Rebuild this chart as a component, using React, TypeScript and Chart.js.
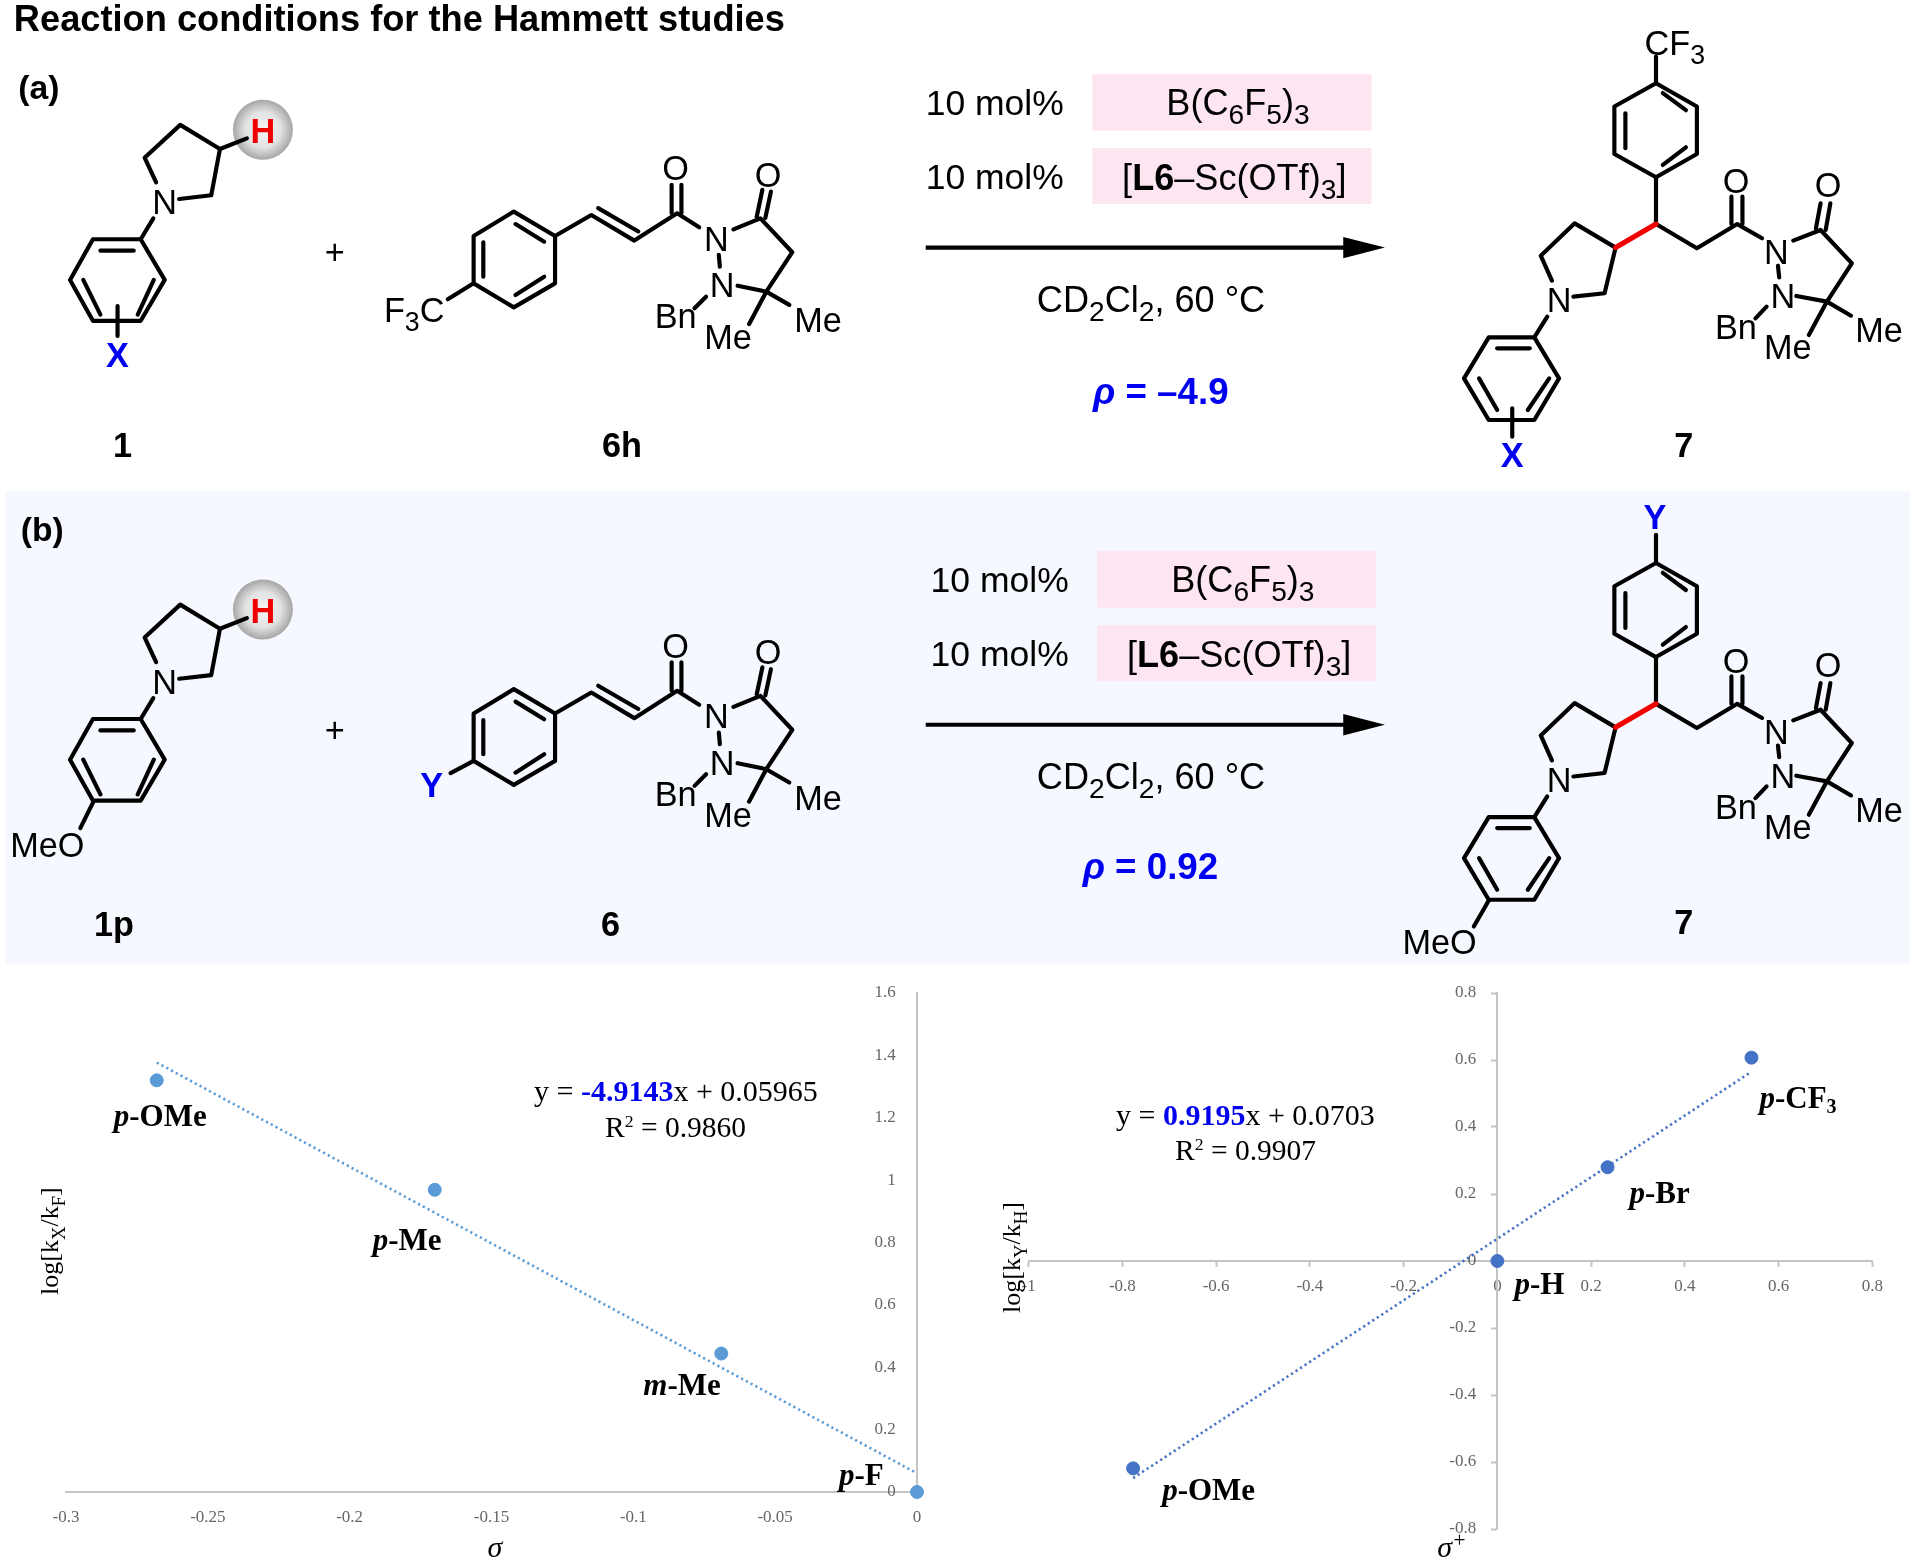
import React, { useEffect, useRef } from "react";
import { Chart, registerables } from "chart.js";

Chart.register(...registerables);

// ---------- chart data ----------
const leftSigma = [-0.268, -0.17, -0.069, 0];
const leftLog = [1.32, 0.969, 0.444, 0];
const leftLabels = ["p-OMe", "p-Me", "m-Me", "p-F"];
const leftTrendX = [-0.268, 0];
const leftTrendY = [1.377, 0.06];
const leftXTicks = [-0.3, -0.25, -0.2, -0.15, -0.1, -0.05, 0];
const leftYTicks = [0, 0.2, 0.4, 0.6, 0.8, 1, 1.2, 1.4, 1.6];

const rightSigma = [-0.777, 0, 0.235, 0.542];
const rightLog = [-0.619, 0, 0.28, 0.607];
const rightLabels = ["p-OMe", "p-H", "p-Br", "p-CF3"];
const rightTrendX = [-0.777, 0.542];
const rightTrendY = [-0.648, 0.565];
const rightXTicks = [-1, -0.8, -0.6, -0.4, -0.2, 0, 0.2, 0.4, 0.6, 0.8];
const rightYTicks = [-0.8, -0.6, -0.4, -0.2, 0, 0.2, 0.4, 0.6, 0.8];

const leftLabelOffsets = [[-43, 46], [-62, 60], [-78, 41], [-78, -7]];
const rightLabelOffsets = [[29, 32], [17, 33], [22, 36], [8, 50]];

const zip = (xs: number[], ys: number[]) => xs.map((x, i) => ({ x, y: ys[i] }));
const SERIF = "'Liberation Serif'";
const SANS = "'Liberation Sans', Arial, sans-serif";

function labelPlugin(labels: string[], offsets: number[][], size: number) {
  return {
    id: "pointLabels",
    afterDatasetsDraw(chart: any) {
      const ctx = chart.ctx;
      const pts = chart.getDatasetMeta(0).data;
      ctx.save();
      ctx.fillStyle = "#000";
      ctx.textBaseline = "alphabetic";
      ctx.textAlign = "left";
      labels.forEach((label, i) => {
        let x = pts[i].x + offsets[i][0];
        const y = pts[i].y + offsets[i][1];
        const m = label.match(/^(.)(.*?)(\d?)$/)!;
        ctx.font = `italic bold ${size}px ${SERIF}`;
        ctx.fillText(m[1], x, y);
        x += ctx.measureText(m[1]).width;
        ctx.font = `bold ${size}px ${SERIF}`;
        ctx.fillText(m[2], x, y);
        x += ctx.measureText(m[2]).width;
        if (m[3]) {
          ctx.font = `bold ${Math.round(size * 0.65)}px ${SERIF}`;
          ctx.fillText(m[3], x, y + 5);
        }
      });
      ctx.restore();
    },
  };
}

function makeChart(
  canvas: HTMLCanvasElement,
  cfg: {
    xs: number[]; ys: number[]; tx: number[]; ty: number[];
    xTicks: number[]; yTicks: number[]; xMin: number; xMax: number; yMin: number; yMax: number;
    color: string; padding: any; tickColor: string; labels: string[]; offsets: number[][];
  }
) {
  const tickFont = { family: SERIF, size: 17 };
  const fmt = (v: any) => String(+(+v).toFixed(2));
  return new Chart(canvas, {
    type: "scatter",
    data: {
      datasets: [
        {
          data: zip(cfg.xs, cfg.ys),
          backgroundColor: cfg.color,
          borderColor: cfg.color,
          pointRadius: 6.5,
          clip: false,
        } as any,
        {
          data: zip(cfg.tx, cfg.ty),
          showLine: true,
          borderColor: cfg.color,
          borderWidth: 2.6,
          borderDash: [2.2, 3.2],
          pointRadius: 0,
          clip: false,
        } as any,
      ],
    },
    options: {
      responsive: false,
      animation: false,
      layout: { padding: cfg.padding },
      plugins: { legend: { display: false }, tooltip: { enabled: false }, title: { display: false } },
      scales: {
        x: {
          type: "linear",
          position: { y: 0 } as any,
          min: cfg.xMin,
          max: cfg.xMax,
          afterBuildTicks: (s: any) => { s.ticks = cfg.xTicks.map((value) => ({ value })); },
          grid: { drawOnChartArea: false, tickLength: 5, tickColor: cfg.tickColor, tickWidth: 2 },
          border: { color: "#c4c4c4", width: 2 },
          ticks: { autoSkip: false, maxRotation: 0, color: "#666", font: tickFont, padding: 10, callback: fmt },
        },
        y: {
          type: "linear",
          position: { x: 0 } as any,
          min: cfg.yMin,
          max: cfg.yMax,
          afterBuildTicks: (s: any) => { s.ticks = cfg.yTicks.map((value) => ({ value })); },
          grid: { drawOnChartArea: false, tickLength: 5, tickColor: cfg.tickColor, tickWidth: 2 },
          border: { color: "#c4c4c4", width: 2 },
          ticks: { autoSkip: false, color: "#666", font: tickFont, callback: (v: any) => fmt(v) + "     " },
        },
      },
    } as any,
    plugins: [labelPlugin(cfg.labels, cfg.offsets, 31)],
  });
}

// ---------- structure drawing (scheme, not chart marks) ----------
type Run = string | [string, "sub" | "sup" | "b" | "i" | "bi" | "blue"];

function Rich({ x, y, size, runs, anchor = "start", fill = "#000", weight = "normal", family = SANS, style = "normal", subScale = 0.72 }: any) {
  let shift = 0;
  const spans = (runs as Run[]).map((r, i) => {
    const text = typeof r === "string" ? r : r[0];
    const kind = typeof r === "string" ? "" : r[1];
    const target = kind === "sub" ? size * 0.25 : kind === "sup" ? -size * 0.35 : 0;
    const dy = target - shift;
    shift = target;
    return (
      <tspan
        key={i}
        dy={dy}
        fontSize={kind === "sub" || kind === "sup" ? size * subScale : size}
        fontWeight={kind === "b" || kind === "bi" || kind === "blue" ? "bold" : weight}
        fontStyle={kind === "i" || kind === "bi" ? "italic" : style}
        fill={kind === "blue" ? "#0000f0" : fill}
      >
        {text}
      </tspan>
    );
  });
  return (
    <text x={x} y={y} fontSize={size} textAnchor={anchor} fontFamily={family} xmlSpace="preserve">
      {spans}
    </text>
  );
}

const Atom = ({ x, y, t, size = 28, fill = "#000", weight = "normal" }: any) => (
  <text x={x} y={y + size * 0.36} fontSize={size} textAnchor="middle" fontFamily={SANS} fill={fill} fontWeight={weight}>
    {t}
  </text>
);

const Bonds = ({ list, color = "#000", width = 3.4 }: { list: number[][]; color?: string; width?: number }) => (
  <g fill="none" stroke={color} strokeWidth={width} strokeLinejoin="round" strokeLinecap="round">
    {list.map((p, i) => (
      <polyline key={i} points={p.join(",")} />
    ))}
  </g>
);

const donorBonds = [
  [127.5, 149, 118.1, 128.8, 147.2, 102, 179.6, 121.7, 172.5, 159.5, 146.3, 162.5],
  [179.6, 121.7, 201.6, 113],
  [125.2, 178.3, 114.9, 195.4],
  [114.9, 195.4, 75.9, 195.4, 57.2, 228.6, 75.9, 262, 114.9, 262, 134.5, 228.6, 114.9, 195.4],
  [82, 204.7, 109.2, 204.7],
  [68, 228.6, 82, 257],
  [125.6, 228.6, 112.5, 257],
];

const acceptorBonds = [
  [386.8, 231.4, 386.8, 192.7, 419.6, 172.8, 453.3, 192.7, 453.3, 231.4, 419.6, 251, 386.8, 231.4],
  [394.7, 198, 394.7, 226],
  [421, 183, 444.4, 197.4],
  [444.4, 226, 421, 241],
  [453.3, 192.7, 482.9, 175.6, 518, 196.5, 553, 174.2, 571, 185.6],
  [488.5, 170, 521.3, 189],
  [548.5, 174, 548.5, 151],
  [556.5, 174, 556.5, 151],
  [587, 208.2, 587.9, 217.8],
  [599, 187.3, 621, 178.3, 647, 206, 625.8, 238.2, 602.4, 233.3],
  [618, 177, 622.6, 155],
  [625, 178, 629.6, 156.5],
  [625.8, 238.2, 644.6, 249],
  [625.8, 238.2, 611.8, 264.6],
  [576.6, 242.3, 567.2, 251.8],
];

const productBonds = [
  [1352.4, 68, 1385.8, 87, 1385.8, 125.8, 1352.4, 144.8, 1318.4, 125.8, 1318.4, 87, 1352.4, 68],
  [1358, 76, 1376.8, 90],
  [1376.8, 120.3, 1358, 134.7],
  [1327.4, 92.5, 1327.4, 121],
  [1352.4, 144.8, 1352.4, 183, 1385.8, 202.8, 1418.8, 183, 1439, 194.6],
  [1414, 183, 1414, 160.6],
  [1423, 183, 1423, 160.6],
  [1452, 217, 1453, 226.5],
  [1464.5, 196.5, 1486.8, 187.8, 1512.3, 215, 1492, 246.3, 1467, 241.7],
  [1483, 186.5, 1486.8, 166],
  [1491, 187.8, 1494.8, 166],
  [1492, 246.3, 1511.7, 257.8],
  [1492, 246.3, 1477.2, 273.6],
  [1442.7, 250.4, 1433.6, 260],
  [1267.4, 229.2, 1258.3, 208.8, 1286, 182.4, 1319.4, 202.2, 1310.4, 239.5, 1285, 242.3],
  [1263.6, 258.6, 1253, 275.5],
  [1253, 275.5, 1215.8, 275.5, 1195.6, 309, 1215.8, 343, 1253, 343, 1273.2, 309, 1253, 275.5],
  [1222.7, 284.5, 1249.3, 284.5],
  [1207.9, 309, 1222.7, 334.8],
  [1265.2, 309, 1247.7, 334.8],
];
const redBond = [[1352.4, 183, 1319.4, 202.2]];

const Donor = ({ dy, children }: any) => (
  <g transform={`translate(0 ${dy})`}>
    <circle cx={214.7} cy={106} r={24.5} fill="url(#sphere)" />
    <Bonds list={donorBonds} />
    <Atom x={134.5} y={164.7} t="N" />
    <Atom x={214.7} y={106.5} t="H" size={28} fill="#f00000" weight="bold" />
    {children}
  </g>
);

const Acceptor = ({ dy, children }: any) => (
  <g transform={`translate(0 ${dy})`}>
    <Bonds list={acceptorBonds} />
    <Atom x={551.8} y={137} t="O" />
    <Atom x={627.3} y={142.4} t="O" />
    <Atom x={585} y={194.6} t="N" />
    <Atom x={589.8} y={232.7} t="N" />
    <Atom x={551.8} y={258} t="Bn" />
    <Atom x={594.5} y={275} t="Me" />
    <Atom x={668} y={261.3} t="Me" />
    <Atom x={273.3} y={205.5} t="+" />
    {children}
  </g>
);

const Product = ({ dy, children }: any) => (
  <g transform={`translate(0 ${dy})`}>
    <Bonds list={productBonds} />
    <Bonds list={redBond} color="#f00000" width={4.2} />
    <Atom x={1417.7} y={147.8} t="O" />
    <Atom x={1493} y={151} t="O" />
    <Atom x={1450.7} y={205.5} t="N" />
    <Atom x={1456} y={241.4} t="N" />
    <Atom x={1273.2} y={245} t="N" />
    <Atom x={1417.7} y={266.8} t="Bn" />
    <Atom x={1460} y={283} t="Me" />
    <Atom x={1534.6} y={269.5} t="Me" />
    {children}
  </g>
);

const Conditions = ({ dx, dy }: { dx: number; dy: number }) => (
  <g>
    <rect x={892 + dx} y={60.4 + dy} width={228} height={46.3} fill="#fde6f1" />
    <rect x={892 + dx} y={120.9 + dy} width={228} height={45.7} fill="#fde6f1" />
    <Rich x={756 + dx} y={94 + dy} size={29} runs={["10 mol%"]} />
    <Rich x={756 + dx} y={154.6 + dy} size={29} runs={["10 mol%"]} />
    <Rich x={1011 + dx} y={94 + dy} size={29.5} anchor="middle" subScale={0.78} runs={["B(C", ["6", "sub"], "F", ["5", "sub"], ")", ["3", "sub"]]} />
    <Rich x={1008 + dx} y={155 + dy} size={29.5} anchor="middle" subScale={0.78} runs={["[", ["L6", "b"], "–Sc(OTf)", ["3", "sub"], "]"]} />
    <line x1={756} y1={202.2 + dy} x2={1100} y2={202.2 + dy} stroke="#000" strokeWidth={3.4} />
    <polygon points={`1131,${202.2 + dy} 1097,${193.5 + dy} 1097,${210.9 + dy}`} fill="#000" />
    <Rich x={940} y={255 + dy} size={29.5} anchor="middle" subScale={0.78} runs={["CD", ["2", "sub"], "Cl", ["2", "sub"], ", 60 °C"]} />
  </g>
);

export default function App() {
  const leftRef = useRef<HTMLCanvasElement>(null);
  const rightRef = useRef<HTMLCanvasElement>(null);

  useEffect(() => {
    const a = makeChart(leftRef.current!, {
      xs: leftSigma, ys: leftLog, tx: leftTrendX, ty: leftTrendY,
      xTicks: leftXTicks, yTicks: leftYTicks,
      xMin: -0.3, xMax: 0, yMin: 0, yMax: 1.6,
      color: "#5b9bd5",
      tickColor: "transparent",
      padding: { left: 66, right: 43, top: 23, bottom: 73 },
      labels: leftLabels, offsets: leftLabelOffsets,
    });
    const b = makeChart(rightRef.current!, {
      xs: rightSigma, ys: rightLog, tx: rightTrendX, ty: rightTrendY,
      xTicks: rightXTicks, yTicks: rightYTicks,
      xMin: -1, xMax: 0.8, yMin: -0.8, yMax: 0.8,
      color: "#4472c4",
      tickColor: "#c4c4c4",
      padding: { left: 68.6, right: 47.6, top: 23, bottom: 36 },
      labels: rightLabels, offsets: rightLabelOffsets,
    });
    return () => {
      a.destroy();
      b.destroy();
    };
  }, []);

  return (
    <div style={{ position: "absolute", left: 0, top: 0, width: 1920, height: 1565, overflow: "hidden", background: "#fff" }}>
      <canvas ref={leftRef} width={960} height={595} style={{ position: "absolute", left: 0, top: 970, width: 960, height: 595 }} />
      <canvas ref={rightRef} width={960} height={595} style={{ position: "absolute", left: 960, top: 970, width: 960, height: 595 }} />
      <svg width={1920} height={1565} viewBox="0 0 1920 1565" style={{ position: "absolute", left: 0, top: 0, pointerEvents: "none" }}>
        <defs>
          <radialGradient id="sphere" cx="50%" cy="50%" r="50%">
            <stop offset="0%" stopColor="#f4f4f4" />
            <stop offset="60%" stopColor="#e2e2e2" />
            <stop offset="100%" stopColor="#a6a6a6" />
          </radialGradient>
        </defs>
        <g transform="scale(1.22449)">
          <rect x={4.7} y={401} width={1555.3} height={386} fill="#f6f8ff" />
          <Rich x={11.3} y={25.3} size={29.6} weight="bold" runs={["Reaction conditions for the Hammett studies"]} />
          <Rich x={15} y={81} size={27.5} weight="bold" runs={["(a)"]} />
          <Rich x={17} y={442} size={27.5} weight="bold" runs={["(b)"]} />

          <Donor dy={0}>
            <Bonds list={[[96, 250, 96, 274.4]]} />
            <Atom x={96} y={290} t="X" size={28} fill="#0000f0" weight="bold" />
          </Donor>
          <Acceptor dy={0}>
            <Bonds list={[[365.7, 244.4, 386.8, 231.4]]} />
            <Rich x={363} y={263} size={28} anchor="end" subScale={0.78} runs={["F", ["3", "sub"], "C"]} />
          </Acceptor>
          <Product dy={0}>
            <Bonds list={[[1352.4, 46.3, 1352.4, 68]]} />
            <Rich x={1343} y={45} size={28} subScale={0.78} runs={["CF", ["3", "sub"]]} />
            <Bonds list={[[1235, 333.5, 1235, 356.6]]} />
            <Atom x={1235} y={371} t="X" size={28} fill="#0000f0" weight="bold" />
          </Product>
          <Conditions dx={0} dy={0} />
          <Rich x={948} y={330} size={30} anchor="middle" fill="#0000f0" weight="bold" runs={[["ρ", "bi"], " = –4.9"]} />
          <Rich x={100} y={373} size={28} anchor="middle" weight="bold" runs={["1"]} />
          <Rich x={508} y={373} size={28} anchor="middle" weight="bold" runs={["6h"]} />
          <Rich x={1375} y={373} size={28} anchor="middle" weight="bold" runs={["7"]} />

          <Donor dy={391.8}>
            <Bonds list={[[76.4, 262.7, 65.6, 284.5]]} />
          </Donor>
          <Rich x={69} y={700} size={28} anchor="end" runs={["MeO"]} />
          <Acceptor dy={390}>
            <Bonds list={[[368, 241.4, 386.8, 231.4]]} />
            <Atom x={352.5} y={250.9} t="Y" size={28} fill="#0000f0" weight="bold" />
          </Acceptor>
          <Product dy={391.8}>
            <Bonds list={[[1352.4, 45, 1352.4, 68]]} />
            <Atom x={1351.5} y={30.2} t="Y" size={28} fill="#0000f0" weight="bold" />
            <Bonds list={[[1215.8, 343.6, 1203.6, 364.8]]} />
          </Product>
          <Rich x={1206} y={779} size={28} anchor="end" runs={["MeO"]} />
          <Conditions dx={4} dy={389.7} />
          <Rich x={939.5} y={718} size={30} anchor="middle" fill="#0000f0" weight="bold" runs={[["ρ", "bi"], " = 0.92"]} />
          <Rich x={93} y={764} size={28} anchor="middle" weight="bold" runs={["1p"]} />
          <Rich x={498.5} y={764} size={28} anchor="middle" weight="bold" runs={["6"]} />
          <Rich x={1375} y={763} size={28} anchor="middle" weight="bold" runs={["7"]} />
        </g>

        {/* regression annotations and axis titles */}
        <Rich x={534} y={1101} size={30} family={SERIF} runs={["y = ", ["-4.9143", "blue"], "x + 0.05965"]} />
        <Rich x={605} y={1137} size={29.5} family={SERIF} subScale={0.6} runs={["R", ["2", "sup"], " = 0.9860"]} />
        <Rich x={1116} y={1125} size={30} family={SERIF} runs={["y = ", ["0.9195", "blue"], "x + 0.0703"]} />
        <Rich x={1175} y={1160} size={29.5} family={SERIF} subScale={0.6} runs={["R", ["2", "sup"], " = 0.9907"]} />
        <g transform="translate(58 1295) rotate(-90)">
          <Rich x={0} y={0} size={26} family={SERIF} runs={["log[k", ["X", "sub"], "/k", ["F", "sub"], "]"]} />
        </g>
        <g transform="translate(1020 1313) rotate(-90)">
          <Rich x={0} y={0} size={26} family={SERIF} runs={["log[k", ["Y", "sub"], "/k", ["H", "sub"], "]"]} />
        </g>
        <Rich x={495} y={1557} size={30} family={SERIF} anchor="middle" style="italic" runs={["σ"]} />
        <Rich x={1452} y={1557} size={30} family={SERIF} anchor="middle" style="italic" runs={["σ", ["+", "sup"]]} />
      </svg>
    </div>
  );
}
